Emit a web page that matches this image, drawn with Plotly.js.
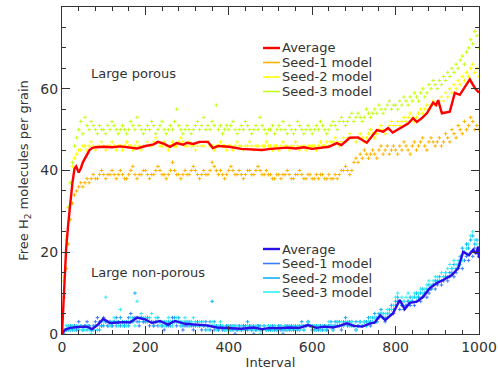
<!DOCTYPE html>
<html>
<head>
<meta charset="utf-8">
<script src="https://cdn.plot.ly/plotly-3.0.1.min.js"></script>
<style>html,body{margin:0;padding:0;background:#fff;}#chart{width:498px;height:374px;}</style>
</head>
<body>
<div id="chart"></div>
<script>
// Sampling intervals of the seed models (every 5 intervals)
const intervals = Array.from({length: 201}, (_, i) => i * 5);

// Large porous grain — seed models
const porousSeed1 = [
0,9,16,22,28,32,34,35,36,37,36,37,38,37,38,39,38,38,39,40,
39,38,39,39,40,39,38,39,40,39,38,38,39,40,41,39,38,39,39,40,
40,39,38,39,39,40,41,40,39,39,38,39,40,42,40,39,39,38,39,40,
39,39,40,41,40,39,38,39,40,39,39,40,42,41,40,39,40,39,38,39,
40,41,40,39,39,40,39,38,39,40,40,39,39,40,41,40,39,39,40,39,
39,38,38,39,39,38,39,39,40,39,38,38,39,39,40,39,38,38,39,39,
38,38,39,38,39,39,38,38,39,38,38,39,38,39,40,40,41,40,39,40,
42,43,42,44,43,45,44,43,44,45,44,43,45,46,44,45,46,44,45,46,
45,44,46,45,47,46,45,44,46,47,45,46,47,48,46,45,47,48,47,46,
47,48,46,47,49,48,47,50,49,48,51,50,49,52,50,51,53,52,50,51,
50];
const porousSeed2 = [
0,14,24,31,37,41,43,44,45,45,46,46,45,46,47,46,45,46,46,47,
46,45,46,46,47,46,45,46,46,45,46,47,46,46,45,46,47,46,45,46,
46,47,46,46,47,48,47,46,46,47,46,45,46,47,46,46,47,48,47,46,
46,47,46,46,45,46,47,46,46,47,47,46,46,45,46,46,47,46,46,45,
46,46,45,46,47,46,46,45,46,46,47,46,45,46,46,45,46,46,47,46,
46,45,46,46,45,46,47,46,46,45,46,46,47,46,45,46,46,45,46,46,
46,46,45,46,47,46,46,47,46,47,47,48,47,46,47,48,47,48,49,48,
48,47,48,49,48,47,48,49,50,49,48,49,50,51,50,49,50,51,52,51,
51,52,51,52,53,52,53,54,53,52,53,54,55,54,55,56,55,56,57,56,
56,57,58,57,59,58,60,59,61,60,62,61,63,62,64,63,65,66,64,65,
63];
const porousSeed3 = [
0,13,23,31,37,42,46,48,50,52,49,53,51,50,52,51,50,49,51,50,
50,49,51,50,52,51,50,49,50,51,50,49,50,52,51,50,53,51,50,49,
50,51,50,52,51,49,50,51,52,50,49,50,51,50,52,55,51,50,49,50,
51,50,49,50,51,52,50,51,53,50,51,50,52,51,56,50,51,49,50,51,
50,51,52,50,49,50,51,50,52,51,50,49,50,51,50,53,51,50,49,50,
50,51,49,50,51,50,52,50,49,51,50,49,50,52,51,50,49,50,51,50,
49,50,51,50,52,51,50,49,50,51,52,51,50,52,53,52,51,52,53,54,
52,53,54,53,52,53,55,54,53,54,55,54,56,55,54,55,56,57,55,56,
56,55,57,56,58,57,56,58,57,59,58,57,59,60,58,59,61,60,62,61,
60,62,61,63,62,64,63,65,64,66,65,67,68,66,69,70,72,71,74,73,
70];

// Large non-porous grain — seed models
const nonPorousSeed1 = [
0,1,1,2,1,2,2,1,3,2,1,2,3,2,1,2,3,4,3,2,
4,3,2,3,2,3,4,3,2,3,2,3,4,5,3,4,3,2,4,3,
3,4,2,3,2,3,2,3,2,1,3,2,3,4,3,2,3,2,1,2,
2,3,2,1,2,3,2,1,2,3,2,1,2,1,2,1,2,1,1,2,
1,2,1,0,1,2,1,2,1,1,2,1,0,1,2,1,1,2,1,2,
1,2,1,1,2,1,0,1,2,1,2,1,1,2,1,2,1,2,3,2,
1,2,1,1,2,1,2,1,2,2,1,2,3,2,1,2,3,2,3,2,
2,1,2,3,2,3,2,3,2,3,4,3,4,5,4,3,4,5,6,5,
7,8,6,7,6,7,8,7,8,7,8,9,8,9,10,9,10,11,12,11,
12,13,12,13,14,13,14,15,14,15,16,17,16,18,19,18,20,19,21,20,
19];
const nonPorousSeed2 = [
0,0,1,1,2,1,1,2,1,2,1,2,1,2,1,1,2,1,1,2,
2,3,2,3,2,3,2,3,4,3,2,3,2,3,4,10,4,3,4,3,
4,3,4,3,2,3,4,3,2,3,2,3,2,3,4,3,4,3,2,3,
3,2,3,2,3,2,2,3,2,1,2,3,8,3,2,1,2,2,1,2,
2,1,2,2,1,2,1,2,2,3,2,1,2,1,2,2,1,2,1,1,
1,1,2,1,2,2,1,2,1,2,1,2,2,1,2,3,2,2,3,2,
2,1,2,2,1,2,2,1,2,3,2,3,2,3,2,3,4,3,2,3,
2,3,2,3,2,3,3,4,3,4,5,4,5,6,5,4,5,6,7,6,
8,9,8,7,8,7,8,9,8,9,10,9,10,11,10,11,12,11,12,13,
13,14,13,14,15,14,15,16,17,16,17,19,21,20,22,21,23,24,22,23,
20];
const nonPorousSeed3 = [
0,1,2,2,1,2,1,2,1,2,1,1,2,1,0,1,2,1,2,3,
3,9,3,2,3,4,3,2,6,2,3,2,3,4,3,2,8,4,5,4,
4,3,4,5,3,4,3,2,3,2,3,4,3,2,3,4,3,2,3,4,
3,2,3,4,3,2,3,2,3,2,1,2,3,2,1,2,3,2,1,1,
2,1,2,1,2,1,2,1,1,2,1,2,1,2,1,0,1,2,1,2,
2,1,2,1,1,2,1,2,1,2,1,2,1,2,1,2,1,2,3,2,
1,2,1,2,1,2,1,2,3,2,1,2,3,2,3,2,3,3,2,3,
2,1,2,3,2,3,2,3,4,3,4,3,4,5,4,5,6,5,6,7,
9,10,8,9,8,9,10,8,9,10,9,10,11,10,11,12,13,12,13,14,
14,13,15,14,15,16,17,16,18,17,18,17,18,20,21,22,24,25,23,22,
21];

// Averages
const porousAvgX = [0,5,10,15,20,25,30,34,40,45,50,55,60,66,72,80,100,120,140,160,180,200,220,230,245,259,275,290,300,315,330,350,362,375,400,430,460,480,500,520,540,560,580,600,620,640,659,670,690,710,731,755,770,782,793,815,830,842,851,865,875,890,897,902,911,930,942,954,966,978,990,1000];
const porousAvgY = [0,12,21,27,33,37,40.5,41,39.5,40.5,42,43,44,45,45.5,45.7,45.8,45.7,45.9,45.6,45.4,46,46.4,47,46.5,45.8,46.7,46.3,46.8,46.5,47,47,45.5,46,45.8,45.3,45.2,45,45.3,45.5,45.6,45.4,45.7,45.3,45.6,45.8,46.7,46.2,48,48.1,46.8,49.9,49.5,50.4,49.3,50.7,51.5,52.8,51.9,53,54,56.6,56,57.2,54,54.4,59,58.5,60.5,62.3,60.2,59];
const nonPorousAvgX = [0,5,10,20,40,60,72,85,99,115,135,150,163,180,199,216,235,254,271,295,323,347,371,400,430,460,480,499,520,545,570,590,610,630,650,665,683,700,720,739,750,763,775,794,810,822,834,851,866,882,898,914,935,950,962,976,986,993,998,1000];
const nonPorousAvgY = [0,0.8,1.2,1.5,1.7,1.8,1.2,2.2,3.7,2.7,2.8,2.9,2.8,4.0,3.6,2.7,3.2,2.3,3.2,2.5,2.3,2.1,1.6,1.5,1.3,1.6,1.2,1.5,1.4,1.6,1.5,2.2,1.5,1.8,1.6,2.0,2.6,2.0,1.8,2.6,2.8,4.6,3.4,5.1,8.3,6.1,7.6,7.9,9.1,11.2,12.4,13.2,14.4,16.1,20.1,19.3,20.6,19.6,21.4,18.6];

const legendNames = ['Average', 'Seed-1 model', 'Seed-2 model', 'Seed-3 model'];
const porousColors = ['#ff0000', '#ffb300', '#ffff00', '#c4ff1a'];
const nonPorousColors = ['#2a0ee8', '#3a7cff', '#12aef7', '#30f0f0'];

const FONT = 'DejaVu Sans, sans-serif';
const TXT = '#333333';

function seedTrace(y, color) {
  return {
    x: intervals, y: y, type: 'scatter', mode: 'markers', showlegend: false,
    hoverinfo: 'skip',
    marker: {symbol: 'cross-thin', size: 2.6, color: color, line: {width: 1, color: color}}
  };
}
function avgTrace(x, y, color) {
  return {x: x, y: y, type: 'scatter', mode: 'lines', showlegend: false,
    line: {color: color, width: 2.4}};
}

const data = [
  seedTrace(nonPorousSeed1, nonPorousColors[1]),
  seedTrace(nonPorousSeed2, nonPorousColors[2]),
  seedTrace(nonPorousSeed3, nonPorousColors[3]),
  seedTrace(porousSeed1, porousColors[1]),
  seedTrace(porousSeed2, porousColors[2]),
  seedTrace(porousSeed3, porousColors[3]),
  avgTrace(nonPorousAvgX, nonPorousAvgY, nonPorousColors[0]),
  avgTrace(porousAvgX, porousAvgY, porousColors[0])
];

// Legends drawn as key lines + labels (paper coords)
const plotL = 62, plotR = 479, plotT = 7, plotB = 334;
const px2x = p => (p - plotL) / (plotR - plotL);
const py2y = p => (plotB - p) / (plotB - plotT);
const topRows = [48, 62.5, 77, 91.5];
const botRows = [249, 263.5, 278, 292];
const shapes = [], annotations = [];
function addLegend(rows, colors) {
  rows.forEach((r, i) => {
    shapes.push({type: 'line', xref: 'paper', yref: 'paper',
      x0: px2x(263), x1: px2x(280), y0: py2y(r), y1: py2y(r),
      line: {color: colors[i], width: i === 0 ? 2.4 : 1.6}});
    annotations.push({xref: 'paper', yref: 'paper', x: px2x(279.5), y: py2y(r),
      xanchor: 'left', yanchor: 'middle', showarrow: false, text: legendNames[i],
      font: {family: FONT, size: 13, color: TXT}});
  });
}
addLegend(topRows, porousColors);
addLegend(botRows, nonPorousColors);
annotations.push({xref: 'paper', yref: 'paper', x: px2x(89), y: py2y(73),
  xanchor: 'left', yanchor: 'middle', showarrow: false, text: 'Large porous',
  font: {family: FONT, size: 13, color: TXT}});
annotations.push({xref: 'paper', yref: 'paper', x: px2x(89), y: py2y(272),
  xanchor: 'left', yanchor: 'middle', showarrow: false, text: 'Large non-porous',
  font: {family: FONT, size: 13, color: TXT}});

const axisCommon = {
  showgrid: false, zeroline: false, showline: true, linecolor: '#333', linewidth: 1,
  mirror: 'ticks', ticks: 'inside', ticklen: 8, tickcolor: '#333', tickwidth: 1,
  tickfont: {family: FONT, size: 14, color: TXT}
};

const layout = {
  width: 498, height: 374,
  margin: {l: 62, r: 19, t: 7, b: 40},
  paper_bgcolor: '#fff', plot_bgcolor: '#fff',
  font: {family: FONT, color: TXT},
  xaxis: Object.assign({}, axisCommon, {
    range: [0, 1000], tickvals: [0, 200, 400, 600, 800, 1000],
    minor: {dtick: 40, ticks: 'inside', ticklen: 4, tickcolor: '#333'},
    title: {text: 'Interval', font: {family: FONT, size: 13, color: TXT}, standoff: 4}
  }),
  yaxis: Object.assign({}, axisCommon, {
    range: [0, 80], tickvals: [0, 20, 40, 60, 80],
    minor: {dtick: 5, ticks: 'inside', ticklen: 4, tickcolor: '#333'},
    title: {text: 'Free H<sub>2</sub> molecules per grain', font: {family: FONT, size: 13, color: TXT}, standoff: 8}
  }),
  shapes: shapes,
  annotations: annotations,
  showlegend: false
};

Plotly.newPlot('chart', data, layout, {displayModeBar: false, staticPlot: true});
</script>
</body>
</html>
